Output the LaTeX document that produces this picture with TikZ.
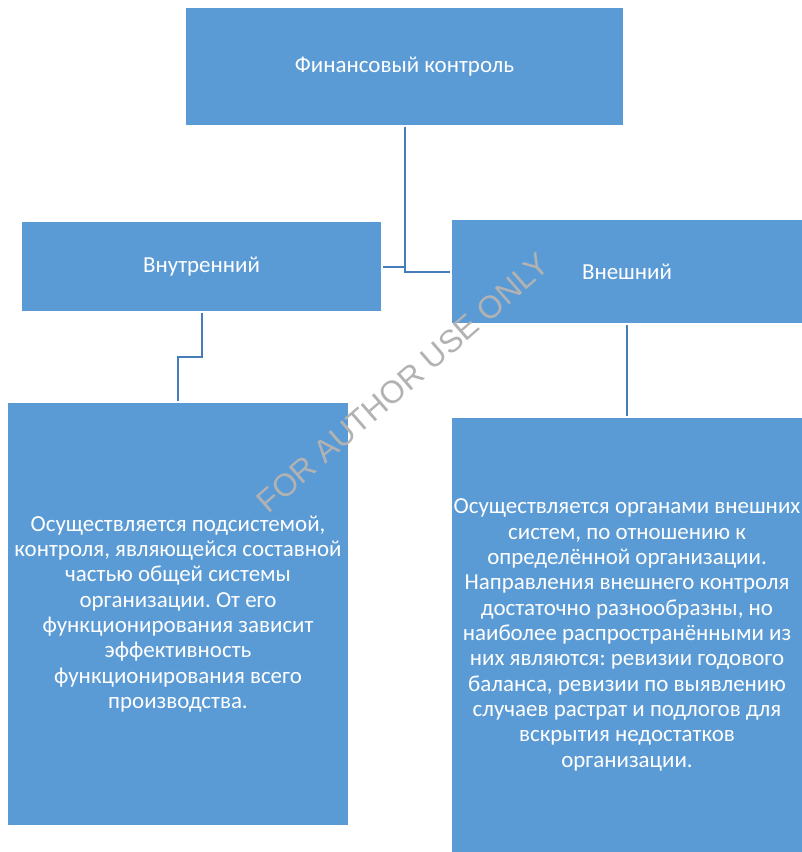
\documentclass[tikz,border=0pt]{standalone}
\usepackage{fontspec}
\setmainfont{Carlito}
\newfontfamily\markfont{Liberation Sans}
\usepackage{xcolor}
\usetikzlibrary{positioning}
\definecolor{boxblue}{RGB}{91,155,213}
\definecolor{lineblue}{RGB}{70,124,186}
\frenchspacing

\begin{document}
\begin{tikzpicture}[
    x=0.75pt, y=-0.75pt,
    box/.style={rectangle, fill=boxblue, text=white, inner sep=0pt, outer sep=1.5pt,
                align=center, font=\fontsize{17.2}{19}\selectfont},
    link/.style={draw=lineblue, line width=1.5pt}
  ]
    \useasboundingbox (0,0) rectangle (802,852);

    \node[box, minimum width={437*0.75pt}, minimum height={117*0.75pt}] (fin) at (404.5,66.5)
        {Финансовый контроль};
    \node[box, minimum width={359*0.75pt}, minimum height={89*0.75pt}] (inner) at (201.5,266.5)
        {Внутренний};
    \node[box, minimum width={350*0.75pt}, minimum height={103*0.75pt}] (outer) at (627,271.5)
        {Внешний};
    \node[box, minimum width={340*0.75pt}, minimum height={422*0.75pt}] (innertext) at (178,614)
        {Осуществляется подсистемой,\\ контроля, являющейся составной\\ частью общей системы\\
         организации. От его\\ функционирования зависит\\ эффективность\\
         функционирования всего\\ производства.};
    \node[box, minimum width={350*0.75pt}, minimum height={434*0.75pt}] (outertext) at (627,635)
        {Осуществляется органами внешних\\ систем, по отношению к\\ определённой организации.\\
         Направления внешнего контроля\\ достаточно разнообразны, но\\
         наиболее распространёнными из\\ них являются: ревизии годового\\
         баланса, ревизии по выявлению\\ случаев растрат и подлогов для\\
         вскрытия недостатков\\ организации.};

    \draw[link] (fin.south) |- (outer.west);
    \draw[link] (inner.east) -- (inner.east -| fin.south);
    \draw[link] (inner.south) -- ++(0,44) -| (innertext.north);
    \draw[link] (outer.south) -- (outertext.north);

    % watermark
    \node[text=black!30, rotate=41, font=\markfont\fontsize{23.7}{24}\selectfont] (mark) at (403,383)
        {FOR AUTHOR USE ONLY};
\end{tikzpicture}
\end{document}
